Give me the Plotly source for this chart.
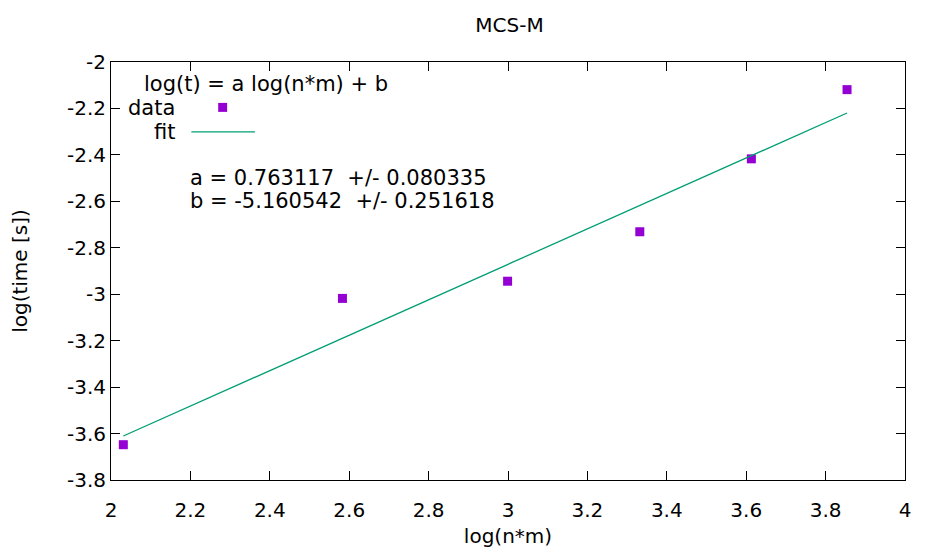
import plotly.graph_objects as go

# data
x_vals = [2.031, 2.583, 2.999, 3.332, 3.613, 3.854]
y_vals = [-3.648, -3.018, -2.944, -2.731, -2.417, -2.119]
fit_a = 0.763117
fit_b = -5.160542
fit_a_err = 0.080335
fit_b_err = 0.251618
x_ticks = [2, 2.2, 2.4, 2.6, 2.8, 3, 3.2, 3.4, 3.6, 3.8, 4]
y_ticks = [-2, -2.2, -2.4, -2.6, -2.8, -3, -3.2, -3.4, -3.6, -3.8]

fit_x = [min(x_vals), max(x_vals)]
fit_y = [fit_a * v + fit_b for v in fit_x]

FONT = "DejaVu Sans"
PURPLE = "#9400d3"
GREEN = "#009e73"

# page offset of the plot div (body margin)
OFF = 8

fig = go.Figure()
fig.add_trace(go.Scatter(x=x_vals, y=y_vals, mode="markers", name="data",
                         marker=dict(symbol="square", size=9, color=PURPLE, line=dict(width=0))))
fig.add_trace(go.Scatter(x=fit_x, y=fit_y, mode="lines", name="fit",
                         line=dict(color=GREEN, width=1.3)))

W, H = 926 - 2 * OFF, 558 - 2 * OFF
L, T = 111 - OFF, 62 - OFF
R = 7
B = H - (481 - OFF)
pw, ph = W - L - R, H - T - B

def px(xp):
    return (xp - OFF - L) / pw

def py(yp):
    return 1 - (yp - OFF - T) / ph

ann = []
fs = 20
kfs = 21
def add_text(text, x, y, anchor):
    ann.append(dict(text=text, x=px(x), y=py(y), xref="paper", yref="paper",
                    xanchor=anchor, yanchor="middle", showarrow=False,
                    font=dict(family=FONT, size=kfs, color="black")))

add_text("log(t) = a log(n*m) + b", 142, 84, "left")
add_text("data", 178, 108, "right")
add_text("fit", 178, 132, "right")
add_text(f"a = {fit_a:.6f}\u00a0\u00a0+/- {fit_a_err:.6f}", 189, 178, "left")
add_text(f"b = {fit_b:.6f}\u00a0\u00a0+/- {fit_b_err:.6f}", 189, 201, "left")

shapes = [
    dict(type="rect", xref="paper", yref="paper", x0=px(219), x1=px(228), y0=py(103), y1=py(112),
         fillcolor=PURPLE, line=dict(width=0)),
    dict(type="line", xref="paper", yref="paper", x0=px(192), x1=px(256), y0=py(132), y1=py(132),
         line=dict(color=GREEN, width=1.3)),
]

fig.update_layout(
    width=W, height=H,
    margin=dict(l=L, r=R, t=T, b=B),
    paper_bgcolor="white", plot_bgcolor="white",
    showlegend=False,
    font=dict(family=FONT, size=fs, color="black"),
    title=dict(text="MCS-M", x=px(512.5), xref="paper", xanchor="center", y=1 - (25 - OFF) / H, yanchor="middle",
               font=dict(family=FONT, size=fs, color="black")),
    annotations=ann,
    shapes=shapes,
    xaxis=dict(range=[2, 4], tickvals=x_ticks, ticktext=[f"{v:g}" for v in x_ticks],
               showgrid=False, zeroline=False, showline=True, linecolor="black", linewidth=1,
               mirror="ticks", ticks="inside", ticklen=9, tickcolor="black", tickwidth=1,
               ticklabelstandoff=12,
               title=dict(text="log(n*m)", standoff=7, font=dict(family=FONT, size=fs)),
               tickfont=dict(family=FONT, size=fs)),
    yaxis=dict(range=[-3.8, -2], tickvals=y_ticks, ticktext=[f"{v:g}" for v in y_ticks],
               showgrid=False, zeroline=False, showline=True, linecolor="black", linewidth=1,
               mirror="ticks", ticks="inside", ticklen=9, tickcolor="black", tickwidth=1,
               title=dict(text="log(time [s])", standoff=36, font=dict(family=FONT, size=fs)),
               tickfont=dict(family=FONT, size=fs)),
)

fig.write_html("out.html")
